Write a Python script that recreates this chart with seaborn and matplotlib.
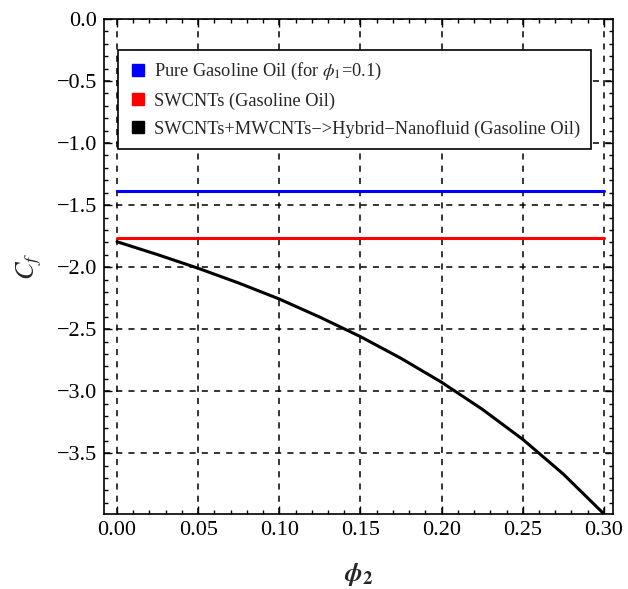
import numpy as np
import pandas as pd
import matplotlib
matplotlib.use("Agg")
import matplotlib.pyplot as plt
import seaborn as sns
from matplotlib.lines import Line2D
from matplotlib.ticker import MultipleLocator

phi2 = [0.0, 0.025, 0.05, 0.075, 0.10, 0.125, 0.15, 0.175, 0.20, 0.225, 0.25, 0.275, 0.30]
pure = [-1.39] * len(phi2)
swcnt = [-1.763] * len(phi2)
hybrid = [-1.795, -1.899, -2.009, -2.128, -2.257, -2.403, -2.560, -2.735, -2.928,
          -3.145, -3.388, -3.668, -3.989]

labels = ["Pure Gasoline Oil (for $\\phi_1$=0.1)",
          "SWCNTs (Gasoline Oil)",
          "SWCNTs+MWCNTs\u2212>Hybrid\u2212Nanofluid (Gasoline Oil)"]
colors = ["#0000ff", "#ff0000", "#000000"]
xtick_vals = [0.0, 0.05, 0.10, 0.15, 0.20, 0.25, 0.30]
xtick_labels = ["0.00", "0.05", "0.10", "0.15", "0.20", "0.25", "0.30"]
ytick_vals = [0.0, -0.5, -1.0, -1.5, -2.0, -2.5, -3.0, -3.5]
ytick_labels = ["0.0", "\u22120.5", "\u22121.0", "\u22121.5", "\u22122.0", "\u22122.5",
                "\u22123.0", "\u22123.5"]

df = pd.DataFrame({
    "phi2": phi2 * 3,
    "Cf": pure + swcnt + hybrid,
    "series": [labels[0]] * len(phi2) + [labels[1]] * len(phi2) + [labels[2]] * len(phi2),
})

sns.set_theme(style="ticks")
plt.rcParams["font.family"] = ["Liberation Serif", "DejaVu Serif"]
plt.rcParams["mathtext.fontset"] = "stix"

fig = plt.figure(figsize=(6.28, 5.89), dpi=100)
ax = fig.add_axes([0.1656, 0.1273, 0.8105, 0.8404])

sns.lineplot(data=df, x="phi2", y="Cf", hue="series", palette=colors,
             hue_order=labels, ax=ax, linewidth=2.2, legend=False, sort=False)

ax.set_xlim(-0.008, 0.3056)
ax.set_ylim(-3.99, 0.0)
ax.xaxis.set_minor_locator(MultipleLocator(0.01))
ax.yaxis.set_minor_locator(MultipleLocator(0.1))
ax.set_xticks(xtick_vals)
ax.set_xticklabels(xtick_labels)
ax.set_yticks(ytick_vals)
ax.set_yticklabels(ytick_labels)

ax.tick_params(which="both", direction="in", top=True, right=True, colors="black",
               labelsize=16, width=1)
ax.tick_params(which="major", length=6)
ax.tick_params(which="minor", length=3)
ax.tick_params(axis="y", pad=5)
ax.tick_params(axis="x", pad=5)
for s in ax.spines.values():
    s.set_color("black")
    s.set_linewidth(1.2)

ax.grid(True, which="major", color="black", linestyle=(0, (4, 4)), linewidth=1.1)
ax.set_axisbelow(True)

ax.set_xlabel(r"$\mathbfit{\phi}_{\mathbf{2}}$", fontsize=19, labelpad=15)
ax.set_ylabel(r"$C_f$", fontsize=19, labelpad=9)

handles = [Line2D([], [], marker="s", linestyle="none", color=c, markersize=8.5) for c in colors]
leg = ax.legend(handles, labels, loc="upper left", bbox_to_anchor=(0.0275, 0.937),
                borderaxespad=0, frameon=True, fancybox=False, fontsize=13.2,
                handletextpad=0.35, borderpad=0.6, labelspacing=0.55, handlelength=1.0)
leg.get_frame().set_edgecolor("black")
leg.get_frame().set_linewidth(1.2)
leg.get_frame().set_alpha(1)

fig.savefig("out.png", dpi=100)
